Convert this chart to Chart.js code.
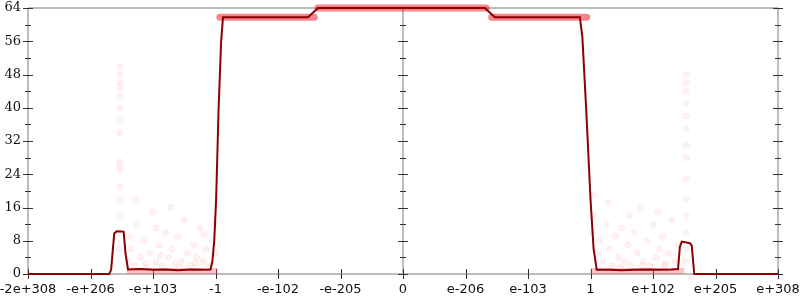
<!DOCTYPE html>
<html>
<head>
<meta charset="utf-8">
<script src="https://cdn.jsdelivr.net/npm/chart.js@4.4.0/dist/chart.umd.min.js"></script>
<style>
  html, body { margin: 0; padding: 0; background: #fff; }
  #wrap { width: 800px; height: 300px; }
</style>
</head>
<body>
<div id="wrap"><canvas id="chart"></canvas></div>
<script>
// x axis positions are tick indexes (-6..6), labelled with the float values below
const xTickLabels = ['-2e+308', '-e+206', '-e+103', '-1', '-e-102', '-e-205', '0',
                     'e-206', 'e-103', '1', 'e+102', 'e+205', 'e+308'];

// median line
const lineX = [-6, -4.70, -4.67, -4.62, -4.58, -4.47, -4.44, -4.40, -4.2, -4.0, -3.8, -3.6, -3.4, -3.2, -3.08,
               -3.05, -3.02, -2.99, -2.95, -2.91, -2.88, -1.52, -1.36,
               1.31, 1.47, 2.83, 2.87, 2.93, 3.00, 3.05, 3.10, 3.3, 3.5, 3.7, 3.9, 4.1, 4.3, 4.40,
               4.43, 4.46, 4.59, 4.62, 4.66, 6];
const lineY = [0, 0, 1.0, 9.8, 10.3, 10.2, 5.0, 1.1, 1.2, 1.0, 1.1, 0.9, 1.1, 1.0, 1.1,
               3, 8, 18, 40, 56, 61.8, 61.8, 64,
               64, 61.8, 61.8, 57, 40, 18, 6, 1.0, 1.0, 0.9, 1.0, 1.1, 1.0, 1.1, 1.2,
               6.5, 7.8, 7.4, 6.8, 0, 0];

// dense sample bands (null y splits the segments)
const plateauX = [-2.93, -1.42, -1.39, -1.36, 1.33, 1.38, 1.42, 2.94];
const plateauY = [61.8, 61.8, null, 64, 64, null, 61.8, 61.8];
const lowX = [-4.42, -2.97, 0, 3.0, 4.5];
const lowY = [0.7, 0.7, null, 0.7, 0.7];

// scattered samples
const sampleX = [-4.40, -4.35, -4.30, -4.25, -4.20, -4.15, -4.10, -4.05, -4.00, -3.95, -3.90, -3.85, -3.80,
                 -3.75, -3.70, -3.65, -3.60, -3.55, -3.50, -3.45, -3.40, -3.35, -3.30, -3.25, -3.20, -3.15,
                 -3.10, -3.05, -4.28, -3.72, -4.12, -3.88, -3.58, -3.33, -3.18, -3.02, -3.00, -4.38, -3.95,
                 -4.53, -4.53, -4.53, -4.53, -4.53, -4.53, -4.53, -4.53, -4.53, -4.53, -4.53, -4.53, -4.53,
                 -4.53, -4.55, -4.54,
                 3.05, 3.02, 3.04, 3.10, 3.15, 3.20, 3.25, 3.30, 3.35, 3.40, 3.45, 3.50, 3.55, 3.60, 3.65,
                 3.70, 3.75, 3.80, 3.85, 3.90, 3.95, 4.00, 4.05, 4.10, 4.15, 4.20, 4.25, 4.30, 4.35, 4.40,
                 3.28, 3.62, 3.83, 4.08, 4.18, 3.48,
                 4.53, 4.53, 4.53, 4.53, 4.53, 4.53, 4.53, 4.53, 4.53, 4.53, 4.53, 4.53, 4.54, 4.52];
const sampleY = [3, 6, 2, 12, 4, 8, 1.5, 5, 15, 3, 7, 2, 10,
                 4, 6, 2.5, 9, 3, 13, 5, 2, 7, 4, 11, 3, 6,
                 2, 8, 18, 16, 2.5, 4.5, 1.5, 2.5, 9.5, 12, 5, 9, 11,
                 50, 48, 46, 45, 43, 40, 37, 34, 27, 26, 25, 21, 18,
                 14, 10, 6,
                 14, 10, 19, 5, 8, 3, 12, 6, 2, 9, 4, 11, 3, 7, 2,
                 10, 5, 16, 3, 8, 2, 12, 4, 6, 9, 2.5, 5, 13, 3, 7,
                 17, 14, 2, 15, 2, 1.5,
                 48, 46, 44, 41, 38, 35, 31, 28, 23, 18, 14, 10, 6, 3];

const toPoints = (xs, ys) => xs.map((x, i) => ({ x: x, y: ys[i] }));

// draws the grey axis lines with crossing tick marks
const axesPlugin = {
    id: 'axesPlugin',
    beforeDatasetsDraw(chart) {
        const ctx = chart.ctx;
        const xs = chart.scales.x;
        const ys = chart.scales.y;
        const left = xs.getPixelForValue(-6), right = xs.getPixelForValue(6), mid = xs.getPixelForValue(0);
        const top = ys.getPixelForValue(64), bottom = ys.getPixelForValue(0);
        ctx.save();
        ctx.strokeStyle = '#bdbdbd';
        ctx.lineWidth = 2;
        ctx.beginPath();
        ctx.moveTo(left, top); ctx.lineTo(right, top);
        ctx.moveTo(left, bottom); ctx.lineTo(right, bottom);
        [left, mid, right].forEach(px => { ctx.moveTo(px, top); ctx.lineTo(px, bottom); });
        ctx.stroke();

        ctx.strokeStyle = '#333';
        ctx.lineWidth = 1;
        ctx.beginPath();
        for (let v = 0; v <= 64; v += 4) {
            const py = Math.round(ys.getPixelForValue(v)) + 0.5;
            const len = v % 8 === 0 ? 5 : 3;
            [left, mid, right].forEach(px => { ctx.moveTo(px - len, py); ctx.lineTo(px + len, py); });
        }
        for (let i = -6; i <= 6; i++) {
            const px = Math.round(xs.getPixelForValue(i)) + 0.5;
            ctx.moveTo(px, bottom - 5); ctx.lineTo(px, bottom + 5);
        }
        ctx.stroke();
        ctx.restore();
    }
};

const ctx = document.getElementById('chart').getContext('2d');
new Chart(ctx, {
    type: 'scatter',
    data: {
        datasets: [
            {
                label: 'median',
                type: 'line',
                data: toPoints(lineX, lineY),
                borderColor: '#8b0000',
                borderWidth: 2,
                pointRadius: 0,
                tension: 0,
                clip: false,
                order: 1
            },
            {
                label: 'plateau',
                type: 'line',
                data: toPoints(plateauX, plateauY),
                borderColor: 'rgba(240, 30, 45, 0.55)',
                borderWidth: 7,
                borderCapStyle: 'round',
                pointRadius: 0,
                spanGaps: false,
                clip: false,
                order: 2
            },
            {
                label: 'low',
                type: 'line',
                data: toPoints(lowX, lowY),
                borderColor: 'rgba(250, 80, 95, 0.35)',
                borderWidth: 6,
                pointRadius: 0,
                spanGaps: false,
                clip: false,
                order: 3
            },
            {
                label: 'samples',
                data: toPoints(sampleX, sampleY),
                backgroundColor: 'rgba(255, 90, 100, 0.08)',
                borderColor: 'rgba(255, 90, 100, 0.08)',
                pointRadius: 3,
                clip: false,
                order: 4
            }
        ]
    },
    options: {
        responsive: true,
        maintainAspectRatio: false,
        animation: false,
        layout: { padding: { top: 8, right: 22, left: 0, bottom: 0 } },
        plugins: {
            legend: { display: false },
            tooltip: { enabled: false }
        },
        scales: {
            x: {
                type: 'linear',
                min: -6,
                max: 6,
                grid: { display: false, drawTicks: false },
                border: { display: false },
                ticks: {
                    stepSize: 1,
                    autoSkip: false,
                    maxRotation: 0,
                    padding: 8,
                    color: '#111',
                    font: { family: 'DejaVu Sans', size: 13 },
                    callback: (v) => xTickLabels[Math.round(v) + 6]
                },
                afterFit: (scale) => {
                    scale.height = 26;
                    scale.paddingLeft = 0;
                    scale.paddingRight = 0;
                }
            },
            y: {
                min: 0,
                max: 64,
                grid: { display: false, drawTicks: false },
                border: { display: false },
                ticks: {
                    stepSize: 8,
                    padding: 7,
                    color: '#111',
                    font: { family: 'DejaVu Serif', size: 13 }
                },
                afterFit: (scale) => {
                    scale.width = 28;
                    scale.paddingTop = 0;
                    scale.paddingBottom = 0;
                }
            }
        }
    },
    plugins: [axesPlugin]
});
</script>
</body>
</html>
